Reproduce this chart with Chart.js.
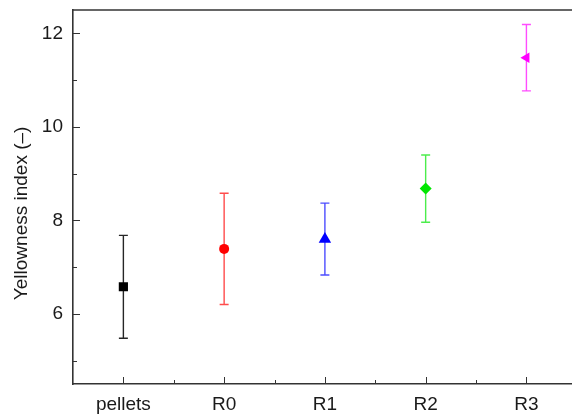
<!DOCTYPE html>
<html>
<head>
<meta charset="utf-8">
<script src="https://cdn.jsdelivr.net/npm/chart.js@4"></script>
<style>
  html, body { margin: 0; padding: 0; background: #fff; overflow: hidden; }
  #wrap { width: 572px; height: 416px; overflow: hidden; }
</style>
</head>
<body>
<!-- the plot runs a little past the right edge, so the canvas is wider than the frame -->
<div id="wrap"><canvas id="yiChart" width="584" height="416"></canvas></div>
<script>
    // sample groups and their yellowness index (mean, +/- std dev)
    const categories = ['pellets', 'R0', 'R1', 'R2', 'R3'];
    const yellowness = [6.58, 7.39, 7.6, 8.68, 11.48];
    const yellownessErr = [1.1, 1.19, 0.77, 0.72, 0.71];
    const yMajorTicks = [6, 8, 10, 12];
    const yMinorTicks = [5, 7, 9, 11];
    const xMinorTicks = [1.5, 2.5, 3.5, 4.5, 5.5];
    const yTitle = 'Yellowness index (–)';

    const colors = ['#000000', '#ff0000', '#0000ff', '#00e600', '#ff00ff'];
    const FONT = "'Liberation Sans', Arial, sans-serif";
    const AXIS = '#333333';

    // error bars drawn under the markers
    const errorBars = {
        id: 'errorBars',
        beforeDatasetsDraw(chart) {
            const ctx = chart.ctx;
            const xs = chart.scales.x, ys = chart.scales.y;
            ctx.save();
            ctx.lineWidth = 1.4;
            yellowness.forEach((v, i) => {
                const x = xs.getPixelForValue(i + 1);
                const top = ys.getPixelForValue(v + yellownessErr[i]);
                const bot = ys.getPixelForValue(v - yellownessErr[i]);
                ctx.strokeStyle = colors[i];
                ctx.globalAlpha = i === 0 ? 0.85 : 0.7;
                ctx.beginPath();
                ctx.moveTo(x, top); ctx.lineTo(x, bot);
                ctx.moveTo(x - 4.5, top); ctx.lineTo(x + 4.5, top);
                ctx.moveTo(x - 4.5, bot); ctx.lineTo(x + 4.5, bot);
                ctx.stroke();
            });
            ctx.restore();
        }
    };

    // top frame line, inward tick marks and the y axis title
    const frame = {
        id: 'frame',
        afterDraw(chart) {
            const ctx = chart.ctx;
            const a = chart.chartArea;
            const xs = chart.scales.x, ys = chart.scales.y;
            ctx.save();
            ctx.strokeStyle = AXIS;
            ctx.lineWidth = 1.5;
            ctx.beginPath();
            ctx.moveTo(a.left, a.top); ctx.lineTo(a.right, a.top);
            ctx.stroke();
            ctx.lineWidth = 1;
            ctx.beginPath();
            const yTick = (v, len) => {
                const y = Math.round(ys.getPixelForValue(v)) + 0.5;
                ctx.moveTo(a.left, y); ctx.lineTo(a.left + len, y);
            };
            const xTick = (v, len) => {
                const x = Math.round(xs.getPixelForValue(v)) + 0.5;
                ctx.moveTo(x, a.bottom); ctx.lineTo(x, a.bottom - len);
            };
            yMajorTicks.forEach(v => yTick(v, 7));
            yMinorTicks.forEach(v => yTick(v, 4));
            categories.forEach((c, i) => xTick(i + 1, 7));
            xMinorTicks.forEach(v => xTick(v, 4));
            ctx.stroke();

            // title sits a bit below the middle of the axis
            ctx.translate(22, ys.getPixelForValue(8.15));
            ctx.rotate(-Math.PI / 2);
            ctx.font = '19px ' + FONT;
            ctx.fillStyle = '#1a1a1a';
            ctx.textAlign = 'center';
            ctx.textBaseline = 'middle';
            ctx.fillText(yTitle, 0, 0);
            ctx.restore();
        }
    };

    const ctx = document.getElementById('yiChart').getContext('2d');
    new Chart(ctx, {
        type: 'scatter',
        data: {
            datasets: [{
                label: 'Yellowness index',
                data: yellowness.map((v, i) => ({ x: i + 1, y: v })),
                pointStyle: ['rect', 'circle', 'triangle', 'rectRot', 'triangle'],
                rotation: [0, 0, 0, 0, -90],
                pointRadius: [6.5, 5, 7.2, 6, 6],
                pointBackgroundColor: colors,
                pointBorderColor: colors,
                pointBorderWidth: 0
            }]
        },
        options: {
            responsive: false,
            animation: false,
            devicePixelRatio: 1,
            layout: { padding: { top: 10, right: 0, left: 0, bottom: 0 } },
            plugins: {
                legend: { display: false },
                tooltip: { enabled: false }
            },
            scales: {
                x: {
                    type: 'linear',
                    min: 0.5,
                    max: 5.5,
                    afterBuildTicks: s => { s.ticks = categories.map((c, i) => ({ value: i + 1 })); },
                    afterFit: s => { s.height = 32; s.paddingLeft = 0; s.paddingRight = 0; },
                    grid: { display: false, drawTicks: false },
                    border: { display: true, color: AXIS, width: 1.6 },
                    ticks: {
                        padding: 9,
                        color: '#1a1a1a',
                        font: { family: FONT, size: 19 },
                        maxRotation: 0,
                        callback: v => categories[v - 1]
                    }
                },
                y: {
                    min: 4.5,
                    max: 12.5,
                    afterBuildTicks: s => { s.ticks = yMajorTicks.map(v => ({ value: v })); },
                    afterFit: s => { s.width = 73; s.paddingTop = 0; s.paddingBottom = 0; },
                    grid: { display: false, drawTicks: false },
                    border: { display: true, color: AXIS, width: 1.6 },
                    ticks: {
                        padding: 10,
                        color: '#1a1a1a',
                        font: { family: FONT, size: 19 }
                    }
                }
            }
        },
        plugins: [errorBars, frame]
    });
</script>
</body>
</html>
